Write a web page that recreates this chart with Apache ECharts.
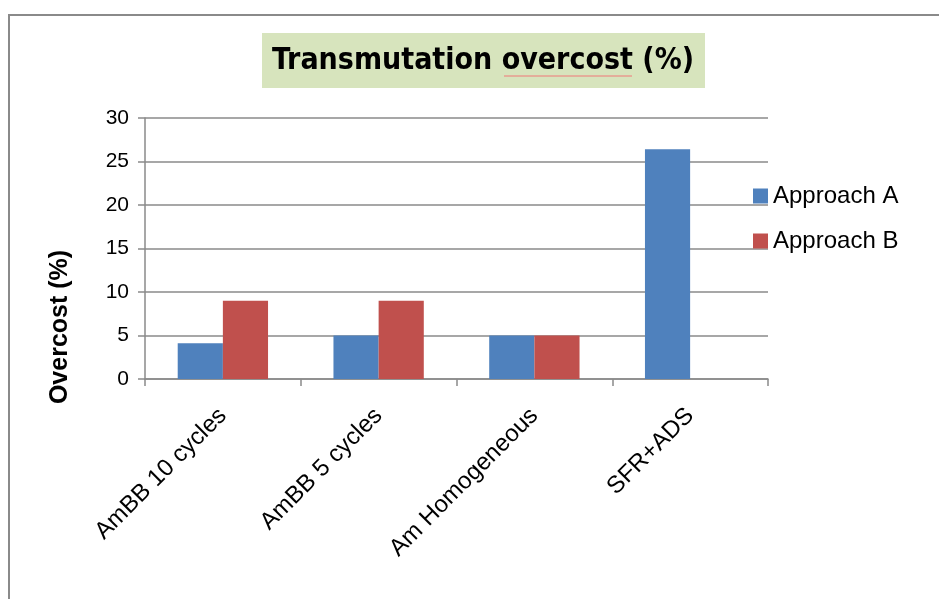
<!DOCTYPE html>
<html>
<head>
<meta charset="utf-8">
<script src="https://cdn.jsdelivr.net/npm/echarts@6/dist/echarts.min.js"></script>
<style>
  html, body { margin: 0; padding: 0; background: #fff; }
  #main { width: 939px; height: 599px; }
</style>
</head>
<body>
<div id="main"></div>
<script>
// data
const categories = ['AmBB 10 cycles', 'AmBB 5 cycles', 'Am Homogeneous', 'SFR+ADS'];
const approachA = [4.1, 5, 5, 26.4];
const approachB = [9, 9, 5, null];
const seriesNames = ['Approach A', 'Approach B'];

const chart = echarts.init(document.getElementById('main'));
const baseFont = 'Liberation Sans';

chart.setOption({
  animation: false,
  color: ['#4f81bd', '#c0504d'],
  textStyle: { fontFamily: baseFont },
  graphic: [
    // outer frame
    { type: 'rect', shape: { x: 9, y: 15, width: 1000, height: 700 },
      style: { fill: 'none', stroke: '#8a8a8a', lineWidth: 2 }, silent: true },
    // title box
    { type: 'rect', shape: { x: 262, y: 33, width: 443, height: 55 },
      style: { fill: '#d7e4bd' }, silent: true },
    { type: 'text', x: 483, y: 61,
      style: { text: 'Transmutation overcost (%)', fill: '#000', align: 'center', verticalAlign: 'middle',
               font: 'bold 30px "Liberation Sans Narrow", "DejaVu Sans Condensed", sans-serif' } },
    // spell-check underline
    { type: 'line', shape: { x1: 504, y1: 76, x2: 632, y2: 76 },
      style: { stroke: '#f07878', lineWidth: 1 }, silent: true },
    // y axis title
    { type: 'text', x: 60, y: 327, rotation: Math.PI / 2,
      style: { text: 'Overcost (%)', fill: '#000', align: 'center', verticalAlign: 'middle',
               font: 'bold 25px "Liberation Sans", sans-serif' } }
  ],
  legend: {
    orient: 'vertical',
    left: 753,
    top: 184,
    padding: 0,
    icon: 'rect',
    itemWidth: 15,
    itemHeight: 15,
    itemGap: 21,
    textStyle: { fontSize: 24, color: '#000', fontFamily: baseFont },
    data: seriesNames
  },
  grid: { left: 145, right: 171, top: 118, bottom: 220 },
  xAxis: {
    type: 'category',
    data: categories,
    axisLine: { lineStyle: { color: '#8a8a8a', width: 1.5 } },
    axisTick: { show: true, length: 7, alignWithLabel: false, lineStyle: { color: '#8a8a8a', width: 1.5 } },
    axisLabel: { rotate: 45, fontSize: 24, color: '#000', margin: 33, interval: 0 }
  },
  yAxis: {
    type: 'value',
    min: 0,
    max: 30,
    interval: 5,
    axisLine: { show: true, lineStyle: { color: '#8a8a8a', width: 1.5 } },
    axisTick: { show: true, length: 7, lineStyle: { color: '#8a8a8a', width: 1.5 } },
    axisLabel: { fontSize: 21, color: '#000', margin: 16 },
    splitLine: { lineStyle: { color: '#8a8a8a', width: 1.5 } }
  },
  series: [
    { name: seriesNames[0], type: 'bar', data: approachA, barGap: '0%', barCategoryGap: '42%' },
    { name: seriesNames[1], type: 'bar', data: approachB, barGap: '0%', barCategoryGap: '42%' }
  ]
});
</script>
</body>
</html>
